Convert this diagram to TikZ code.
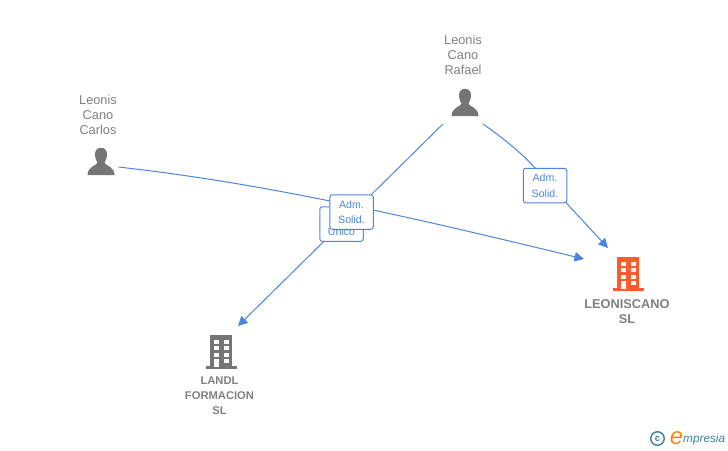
\documentclass[tikz,border=0pt]{standalone}
\usepackage{fontspec}
\setmainfont{Liberation Sans}
\usetikzlibrary{calc,arrows.meta}
\definecolor{linkblue}{HTML}{4A86DC}
\definecolor{icongray}{HTML}{757575}
\definecolor{textgray}{HTML}{808080}
\definecolor{orangeicon}{HTML}{FF5B2E}
\definecolor{logoteal}{HTML}{3F8296}
\definecolor{logoorange}{HTML}{F08A1E}
\tikzset{
  x=1pt,y=-1pt,
  iconholder/.style={circle,minimum size=36pt,inner sep=0pt},
  personlabel/.style={align=center,font=\fontsize{12.8}{15}\selectfont,text=textgray,inner sep=0pt},
  firmlabel/.style={align=center,font=\fontsize{11.2}{15}\selectfont\bfseries,text=textgray,inner sep=0pt},
  rolebox/.style={draw=linkblue,fill=white,line width=1pt,rounded corners=2.5pt,align=center,
     font=\fontsize{10.6}{15.5}\selectfont,text=linkblue,minimum width=43.5pt,minimum height=34.5pt,inner sep=0pt},
  link/.style={draw=linkblue,line width=1pt},
  arrowlink/.style={link,-{Triangle[length=9.5pt,width=9.5pt]}},
  pics/personicon/.style={code={
    \fill[icongray] (-6,-7.5) .. controls (-6.5,-16.5) and (6.5,-16.5) .. (6,-7.5)
      .. controls (5.8,-3.5) and (4.5,-1) .. (3.5,0.5) .. controls (3.5,3.5) and (13.5,4) .. (13.5,13)
      -- (-13.5,13) .. controls (-13.5,4) and (-3.5,3.5) .. (-3.5,0.5)
      .. controls (-4.5,-1) and (-5.8,-3.5) .. (-6,-7.5) -- cycle;
  }},
  pics/buildingicon/.style={code={
    \fill[#1] (-11,-17) rectangle (11,14.5);
    \fill[#1] (-15.5,14) rectangle (15.5,17);
    \foreach \yy in {-12.5,-6,0.5}{
      \fill[white] (-7,\yy) rectangle (-2,{\yy+4.4});
      \fill[white] (2.5,\yy) rectangle (7.5,{\yy+4.4});
    }
    \fill[white] (-7,7) rectangle (-2,14.5);
    \fill[white] (2.5,7) rectangle (7.5,11.4);
  }}
}
\begin{document}
\begin{tikzpicture}
\useasboundingbox (0,0) rectangle (728,450);
% icon holders
\node[iconholder] (carlos) at (101,162) {};
\node[iconholder] (rafael) at (465,103) {};
\node[iconholder] (leoniscano) at (628,274) {};
\node[iconholder] (landl) at (221,352) {};
\pic at (carlos) {personicon};
\pic at (rafael) {personicon};
\pic at (leoniscano) {buildingicon=orangeicon};
\pic at (landl) {buildingicon=icongray};
% connectors
\draw[arrowlink] ($(carlos)+(17.5,5)$) .. controls (250,182) and (370,207) .. ($(leoniscano)+(-44,-15)$);
\draw[arrowlink] ($(rafael)+(-22,21)$) -- ($(landl)+(17,-26)$);
\draw[arrowlink] ($(rafael)+(18,21)$) .. controls (510,143) and (530,160) .. (545,180) -- ($(leoniscano)+(-20,-26)$);
% role boxes
\node[rolebox] (unico) at (341.5,224) {Adm.\\Único};
\node[rolebox] (solidA) at (351.5,212) {Adm.\\Solid.};
\node[rolebox] (solidB) at (545,185.5) {Adm.\\Solid.};
% labels
\node[personlabel] (carlostxt) at (98,115) {Leonis\\Cano\\Carlos};
\node[personlabel] (rafaeltxt) at (463,55) {Leonis\\Cano\\Rafael};
\node[firmlabel,font=\fontsize{12.8}{15}\selectfont\bfseries] (leotxt) at (627,311.5) {LEONISCANO\\SL};
\node[firmlabel] (landltxt) at (219.5,396) {LANDL\\FORMACION\\SL};
% logo
\node[circle,draw=logoteal,line width=1.4pt,minimum size=13.5pt,inner sep=0pt,text=logoteal,font=\fontsize{9.5}{9.5}\selectfont\bfseries] (copyr) at (657.5,438.5) {c};
\node[inner sep=0pt,text=logoorange,font=\fontsize{24}{24}\selectfont\itshape] (logoe) at (676.5,438.5) {e};
\node[inner sep=0pt,text=logoteal,font=\fontsize{11.8}{12}\selectfont\itshape,anchor=west] (logotxt) at (683,439) {mpresia};
\end{tikzpicture}
\end{document}
